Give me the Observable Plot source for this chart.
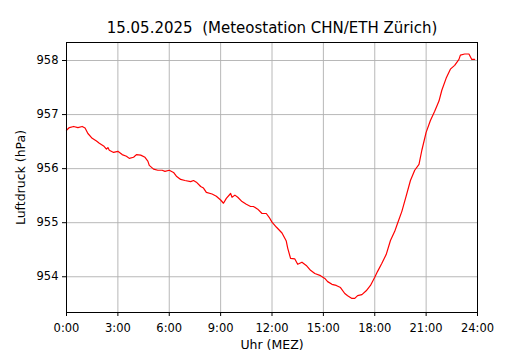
<!DOCTYPE html>
<html>
<head>
<meta charset="utf-8">
<script src="https://cdn.jsdelivr.net/npm/d3@7"></script>
<script src="https://cdn.jsdelivr.net/npm/@observablehq/plot@0.6"></script>
<style>
  html, body { margin: 0; padding: 0; background: #fff; }
</style>
</head>
<body>
<div id="chart"></div>
<script>
const title = "15.05.2025  (Meteostation CHN/ETH Zürich)";
const xLabel = "Uhr (MEZ)";
const yLabel = "Luftdruck (hPa)";
const xTicks = [0, 3, 6, 9, 12, 15, 18, 21, 24];
const yTicks = [954, 955, 956, 957, 958];

const times = [
  "0:00","0:10","0:25","0:40","0:55","1:05","1:15","1:30","1:45","1:55",
  "2:10","2:20","2:25","2:30","2:45","3:00","3:15","3:30","3:40","3:55",
  "4:05","4:20","4:35","4:45","4:50","5:05","5:20","5:35","5:45","6:00",
  "6:15","6:25","6:40","6:55","7:15","7:25","7:35","7:50","8:00","8:10",
  "8:30","8:45","9:00","9:10","9:20","9:35","9:40","9:50","10:00","10:15",
  "10:30","10:45","10:55","11:10","11:25","11:40","11:50","12:00","12:15","12:35",
  "12:50","12:55","13:05","13:20","13:30","13:45","14:00","14:15","14:30","14:50",
  "15:05","15:15","15:30","15:45","16:00","16:15","16:25","16:40","16:50","17:00",
  "17:15","17:30","17:45","18:00","18:10","18:25","18:40","18:55","19:10","19:20",
  "19:35","19:50","20:05","20:20","20:35","20:45","21:00","21:15","21:30","21:45",
  "21:55","22:10","22:25","22:40","22:55","23:00","23:15","23:30","23:40","23:50"
];
const pressure = [
  956.71,956.76,956.78,956.76,956.78,956.75,956.65,956.56,956.51,956.47,
  956.42,956.36,956.39,956.34,956.30,956.32,956.26,956.23,956.19,956.21,
  956.26,956.25,956.21,956.14,956.06,955.99,955.97,955.97,955.95,955.97,
  955.93,955.86,955.80,955.78,955.76,955.78,955.75,955.67,955.64,955.56,
  955.53,955.49,955.42,955.36,955.45,955.54,955.47,955.51,955.47,955.39,
  955.34,955.30,955.30,955.25,955.17,955.17,955.10,955.01,954.92,954.81,
  954.66,954.53,954.34,954.33,954.23,954.27,954.21,954.12,954.06,954.02,
  953.97,953.91,953.86,953.84,953.80,953.69,953.65,953.60,953.60,953.65,
  953.67,953.74,953.84,953.99,954.10,954.25,954.41,954.67,954.84,954.99,
  955.21,955.49,955.78,955.97,956.08,956.34,956.67,956.89,957.06,957.25,
  957.45,957.67,957.84,957.91,958.02,958.10,958.12,958.12,958.02,958.02
];

const toHours = s => { const [h, m] = s.split(":").map(Number); return h + m / 60; };
const data = times.map((t, i) => ({ hour: toHours(t), p: pressure[i] }));

const chart = Plot.plot({
  width: 530,
  height: 350,
  marginTop: 42,
  marginBottom: 38,
  marginLeft: 66,
  marginRight: 53,
  style: { fontFamily: "DejaVu Sans, sans-serif", fontSize: "11px", background: "#fff", color: "#000" },
  x: { domain: [0, 24] },
  y: { domain: [953.339, 958.333] },
  marks: [
    Plot.gridX(xTicks, { stroke: "#b0b0b0", strokeOpacity: 1, strokeWidth: 0.9 }),
    Plot.gridY(yTicks, { stroke: "#b0b0b0", strokeOpacity: 1, strokeWidth: 0.9 }),
    Plot.line(data, { x: "hour", y: "p", stroke: "red", strokeWidth: 1.2 }),
    Plot.frame({ stroke: "#000", strokeWidth: 1 }),
    Plot.axisX(xTicks, { tickFormat: d => `${d}:00`, tickSize: 4, tickPadding: 7, label: null, fontSize: 11.5 }),
    Plot.axisY(yTicks, { tickFormat: d => `${d}`, tickSize: 4, tickPadding: 4, label: null, fontSize: 11.5 }),
    Plot.text([xLabel], { frameAnchor: "bottom", dy: 32, fontSize: 12.5, textAnchor: "middle", lineAnchor: "middle" }),
    Plot.text([yLabel], { frameAnchor: "left", rotate: -90, dx: -46, fontSize: 12.5, textAnchor: "middle", lineAnchor: "middle" }),
    Plot.text([title], { frameAnchor: "top", dy: -14, fontSize: 15, textAnchor: "middle", lineAnchor: "middle" })
  ]
});
document.getElementById("chart").appendChild(chart);
</script>
</body>
</html>
